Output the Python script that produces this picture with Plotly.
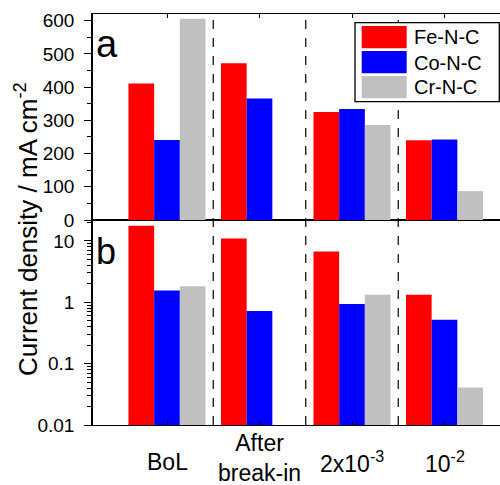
import plotly.graph_objects as go

# ---- data ----
categories = ["BoL", "After<br>break-in", "2x10<sup>-3</sup>", "10<sup>-2</sup>"]
series_names = ["Fe-N-C", "Co-N-C", "Cr-N-C"]
series_colors = ["#FF0000", "#0000FF", "#C0C0C0"]
# panel a (linear, mA cm^-2)
fe_a = [411, 472, 325, 240]
co_a = [241, 366, 334, 242]
cr_a = [606, None, 286, 87]
# panel b (log)
fe_b = [17.7, 10.9, 6.7, 1.33]
co_b = [1.55, 0.72, 0.94, 0.52]
cr_b = [1.82, None, 1.32, 0.041]

W, H = 500, 485
L, R, T, B = 93, 0, 14, 60
pw, ph = W - L - R, H - T - B


def px_x(px):
    return (px - L) / pw


def px_y(py):
    return (H - B - py) / ph


split = px_y(220)
FONT = "Arial, Liberation Sans, Helvetica, sans-serif"

xs = list(range(len(categories)))
fig = go.Figure()
for name, col, va, vb in zip(series_names, series_colors, [fe_a, co_a, cr_a], [fe_b, co_b, cr_b]):
    fig.add_trace(go.Bar(x=xs, y=va, name=name, marker=dict(color=col, line=dict(width=0)),
                         xaxis="x2", yaxis="y2", showlegend=False))
    fig.add_trace(go.Bar(x=xs, y=vb, name=name, marker=dict(color=col, line=dict(width=0)),
                         xaxis="x", yaxis="y", showlegend=False))

shapes = []
for i in range(len(categories) - 1):
    shapes.append(dict(type="line", xref="x", yref="paper", x0=i + 0.5, x1=i + 0.5, y0=0, y1=1,
                       line=dict(color="black", width=1.2, dash="dash")))

annotations = []
# custom legend
shapes.append(dict(type="rect", xref="paper", yref="paper", x0=px_x(355), x1=px_x(499.3),
                   y0=px_y(101.7), y1=px_y(22.7), fillcolor="white", line=dict(color="black", width=1.3),
                   layer="above"))
for i, (name, col) in enumerate(zip(series_names, series_colors)):
    top = 26 + 25 * i
    shapes.append(dict(type="rect", xref="paper", yref="paper", x0=px_x(361.7), x1=px_x(406.7),
                       y0=px_y(top + 22.3), y1=px_y(top), fillcolor=col, line=dict(width=0), layer="above"))
    annotations.append(dict(text=name, xref="paper", yref="paper", x=px_x(412), y=px_y(top + 11.5),
                            xanchor="left", yanchor="middle", showarrow=False,
                            font=dict(size=20, color="black", family=FONT)))

# category labels
for i, c in enumerate(categories):
    ypos = 458 if "<br>" in c else 462
    annotations.append(dict(text=c, xref="x", yref="paper", x=i, y=px_y(ypos), xanchor="center",
                            yanchor="middle", showarrow=False, font=dict(size=23, color="black", family=FONT)))

# panel letters
annotations.append(dict(text="a", xref="paper", yref="paper", x=px_x(94), y=px_y(44), xanchor="left",
                        yanchor="middle", showarrow=False, font=dict(size=38, color="black", family=FONT)))
annotations.append(dict(text="b", xref="paper", yref="paper", x=px_x(94), y=px_y(251), xanchor="left",
                        yanchor="middle", showarrow=False, font=dict(size=36, color="black", family=FONT)))

# y-axis title
annotations.append(dict(text="Current density / mA cm<sup>-2</sup>", xref="paper", yref="paper",
                        x=px_x(26), y=px_y(229), xanchor="center", yanchor="middle", textangle=-90,
                        showarrow=False, font=dict(size=26, color="black", family=FONT)))

minor_log = [m * 10.0 ** e for e in (-2, -1, 0) for m in range(2, 10)] + [20]

axis_common = dict(showgrid=False, zeroline=False, linecolor="black",
                   tickcolor="black", tickfont=dict(size=19, color="black", family=FONT))

fig.update_layout(
    width=W, height=H,
    margin=dict(l=L, r=R, t=T, b=B),
    paper_bgcolor="white", plot_bgcolor="white",
    barmode="group", bargap=0.167, bargroupgap=0,
    font=dict(family=FONT, color="black"),
    xaxis=dict(**axis_common, linewidth=1.4, domain=[0, 1], anchor="y", range=[-0.8, 3.6], tickvals=xs,
               showticklabels=False, ticks="inside", ticklen=4, showline=True, mirror=True),
    xaxis2=dict(**axis_common, linewidth=1.4, domain=[0, 1], anchor="y2", range=[-0.8, 3.6], tickvals=xs,
                showticklabels=False, ticks="inside", ticklen=4, showline=True, mirror=True, side="top"),
    yaxis=dict(**axis_common, linewidth=1.6, domain=[0, split], anchor="x", type="log", range=[-2, 1.34],
               tickvals=[0.01, 0.1, 1, 10], ticktext=["0.01", "0.1", "1", "10"],
               ticks="outside", ticklen=7, showline=True, ticklabelstandoff=6,
               minor=dict(tickvals=minor_log, ticks="outside", ticklen=4, tickcolor="black")),
    yaxis2=dict(**axis_common, linewidth=1.6, domain=[split, 1], anchor="x2", range=[0, 620],
                tickvals=[0, 100, 200, 300, 400, 500, 600], ticks="outside", ticklen=7,
                showline=True, ticklabelstandoff=6,
                minor=dict(dtick=50, ticks="outside", ticklen=4, tickcolor="black")),
    shapes=shapes,
    annotations=annotations,
)

fig.write_html("out.html", config={"displayModeBar": False},
               post_script="document.body.style.margin='0';document.body.style.padding='0';"
                           "document.body.style.overflow='hidden';")
